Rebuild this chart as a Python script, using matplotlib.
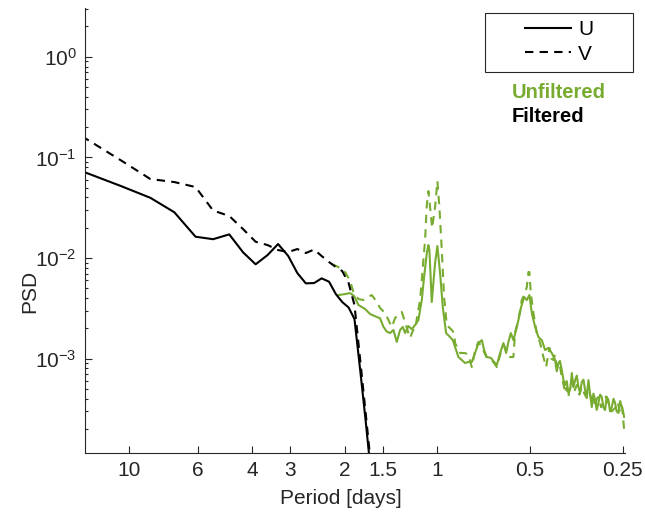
import numpy as np
import matplotlib
matplotlib.use('Agg')
import matplotlib.pyplot as plt
from matplotlib.patches import Rectangle
from matplotlib.ticker import LogLocator, NullLocator, FixedLocator, FixedFormatter

plt.rcParams['font.family'] = ['Liberation Sans', 'DejaVu Sans']

# Filtered spectra (frequency in cycles/day)
freq_filt = [0.070, 0.094, 0.117, 0.140, 0.164, 0.187, 0.211, 0.234, 0.257, 0.281,
             0.304, 0.328, 0.351, 0.374, 0.398, 0.421, 0.445, 0.468, 0.491, 0.515,
             0.538, 0.562, 0.585, 0.608]
u_filt = [0.0732, 0.0519, 0.0397, 0.0285, 0.0163, 0.0154, 0.0172, 0.0114, 0.00867, 0.01072,
          0.01379, 0.01048, 0.00710, 0.00561, 0.00565, 0.00629, 0.00582, 0.00439, 0.00366, 0.00323,
          0.00248, 0.000755, 0.000241, 7.5e-5]
v_filt = [0.163, 0.0933, 0.0610, 0.0569, 0.0508, 0.0297, 0.0262, 0.0194, 0.01453, 0.01347,
          0.01202, 0.01148, 0.01230, 0.01122, 0.01216, 0.01048, 0.00913, 0.00815, 0.00743, 0.00565,
          0.00342, 0.00095, 0.000289, 9.0e-5]

# Unfiltered spectra
freq_u_raw = [0.4772, 0.5017, 0.5208, 0.5365, 0.5541, 0.5826, 0.6046, 0.6357, 0.6516, 0.6679,
              0.6850, 0.7022, 0.7197, 0.7382, 0.7566, 0.7721, 0.7855, 0.8050, 0.8258, 0.8464,
              0.8675, 0.8900, 0.9053, 0.9238, 0.9350, 0.9419, 0.9589, 0.9829, 1.0000, 1.0204,
              1.0411, 1.0671, 1.0995, 1.1220, 1.1414, 1.1700, 1.2000, 1.2300, 1.2607, 1.2933,
              1.3257, 1.3588, 1.3940, 1.4180, 1.4470, 1.4910, 1.5282, 1.5595, 1.5983, 1.6382,
              1.6717, 1.7004, 1.7311, 1.7652, 1.8010, 1.8323, 1.8699, 1.9121, 1.9513, 1.9894,
              2.0254, 2.0760, 2.1278, 2.1828, 2.2372, 2.2930, 2.3519, 2.4106, 2.4400, 2.4712,
              2.5000, 2.5345, 2.5650, 2.5977, 2.6300, 2.6624, 2.7000, 2.7313, 2.7650, 2.7995,
              2.8350, 2.8694, 2.9050, 2.9430, 2.9800, 3.0164, 3.0550, 3.0922, 3.1300, 3.1715,
              3.2100, 3.2505, 3.2900, 3.3315, 3.3750, 3.4177, 3.4600, 3.5034, 3.5450, 3.5908,
              3.6350, 3.6831, 3.7300, 3.7751, 3.8200, 3.8699, 3.9200, 3.9696, 4.0050, 4.0388]
u_raw = [0.00429, 0.00439, 0.00449, 0.00420, 0.00342, 0.00312, 0.00278, 0.00260, 0.00252, 0.00208,
         0.00186, 0.00180, 0.00193, 0.00147, 0.00193, 0.00207, 0.00180, 0.00211, 0.00197, 0.00216,
         0.00242, 0.00383, 0.00648, 0.01122, 0.01347, 0.01202, 0.00366, 0.00893, 0.01317, 0.00710,
         0.00326, 0.00180, 0.00164, 0.00153, 0.00131, 0.00104, 0.000971, 0.000907, 0.000928, 0.000928,
         0.00114, 0.00143, 0.00153, 0.00122, 0.00104, 0.00102, 0.000928, 0.000866, 0.00114, 0.00143,
         0.00114, 0.00147, 0.00180, 0.00153, 0.00193, 0.00242, 0.00326, 0.00410, 0.00383, 0.00429,
         0.00284, 0.00207, 0.00164, 0.00153, 0.00122, 0.00128, 0.00114, 0.000971, 0.000750, 0.000907,
         0.000950, 0.000772, 0.000620, 0.000548, 0.000600, 0.000456, 0.000500, 0.000721, 0.000520, 0.000614,
         0.000680, 0.000524, 0.000460, 0.000587, 0.000620, 0.000489, 0.000420, 0.000614, 0.000450, 0.000331,
         0.000450, 0.000389, 0.000310, 0.000363, 0.000440, 0.000416, 0.000330, 0.000309, 0.000420, 0.000389,
         0.000300, 0.000331, 0.000400, 0.000363, 0.000300, 0.000289, 0.000380, 0.000331, 0.000300, 0.000264]

freq_v_raw = [0.4541, 0.4772, 0.5017, 0.5208, 0.5338, 0.5541, 0.5751, 0.5939, 0.6124, 0.6357,
              0.6516, 0.6764, 0.7111, 0.7290, 0.7663, 0.7855, 0.8050, 0.8153, 0.8339, 0.8464,
              0.8612, 0.8786, 0.8900, 0.9006, 0.9122, 0.9238, 0.9350, 0.9469, 0.9612, 0.9829,
              1.0000, 1.0151, 1.0335, 1.0515, 1.0727, 1.1137, 1.1330, 1.1414, 1.1850, 1.2300,
              1.2607, 1.2933, 1.3257, 1.3588, 1.3971, 1.4470, 1.5022, 1.5595, 1.5983, 1.6382,
              1.6802, 1.7219, 1.7652, 1.7877, 1.8323, 1.8793, 1.9262, 1.9513, 1.9748, 1.9894,
              2.0101, 2.0498, 2.1025, 2.1549, 2.2091, 2.2538, 2.3100, 2.3450, 2.3802, 2.4100,
              2.4418, 2.4900, 2.5345, 2.5650, 2.5977, 2.6300, 2.6624, 2.7000, 2.7313, 2.7800,
              2.8352, 2.8900, 2.9430, 3.0000, 3.0554, 3.1100, 3.1715, 3.2100, 3.2505, 3.2900,
              3.3315, 3.4000, 3.4594, 3.5200, 3.5908, 3.6800, 3.7751, 3.8500, 3.9194, 3.9800,
              4.0388]
v_raw = [0.00873, 0.00815, 0.00727, 0.00592, 0.00460, 0.00392, 0.00383, 0.00410, 0.00429, 0.00366,
         0.00319, 0.00284, 0.00207, 0.00254, 0.00291, 0.00232, 0.00180, 0.00161, 0.00193, 0.00193,
         0.00272, 0.00383, 0.00605, 0.00956, 0.01514, 0.0336, 0.0463, 0.0321, 0.0199, 0.0321,
         0.0582, 0.0321, 0.01202, 0.00410, 0.00216, 0.00193, 0.00180, 0.00143, 0.00114, 0.00114,
         0.00109, 0.000827, 0.00122, 0.00147, 0.00128, 0.00102, 0.000971, 0.000827, 0.00109, 0.00137,
         0.00122, 0.00104, 0.00104, 0.00184, 0.00242, 0.00383, 0.00449, 0.00516, 0.00727, 0.00727,
         0.00449, 0.00284, 0.00180, 0.00143, 0.00104, 0.000827, 0.00128, 0.00100, 0.000971, 0.00110,
         0.000827, 0.000900, 0.000658, 0.000560, 0.000456, 0.000520, 0.000416, 0.000560, 0.000614, 0.000470,
         0.000548, 0.000440, 0.000524, 0.000450, 0.000407, 0.000470, 0.000389, 0.000440, 0.000331, 0.000400,
         0.000416, 0.000330, 0.000363, 0.000420, 0.000363, 0.000300, 0.000324, 0.000370, 0.000289, 0.000330,
         0.000196]

period_ticks = [10, 6, 4, 3, 2, 1.5, 1, 0.5, 0.25]
period_labels = ['10', '6', '4', '3', '2', '1.5', '1', '0.5', '0.25']

green = '#77AC30'
axcol = '#262626'

fig = plt.figure(figsize=(6.45, 5.19), dpi=100)
ax = fig.add_axes([0.1318, 0.1277, 0.8372, 0.8563])

ax.plot(freq_u_raw, u_raw, color=green, lw=1.5)
ax.plot(freq_v_raw, v_raw, color=green, lw=1.5, dashes=(4, 3))
hu, = ax.plot(freq_filt, u_filt, color='black', lw=1.5, label='U')
hv, = ax.plot(freq_filt, v_filt, color='black', lw=1.5, dashes=(4, 3), label='V')

ax.set_xscale('log')
ax.set_yscale('log')
ax.set_xlim(1 / 13.93, 1 / 0.246)
ax.set_ylim(1.165e-4, 3.03)

ax.xaxis.set_major_locator(FixedLocator([1 / p for p in period_ticks]))
ax.xaxis.set_major_formatter(FixedFormatter(period_labels))
ax.xaxis.set_minor_locator(NullLocator())
ax.yaxis.set_major_locator(LogLocator(base=10, numticks=10))
ax.yaxis.set_minor_locator(LogLocator(base=10, subs=np.arange(2, 10), numticks=10))

for s in ['top', 'right']:
    ax.spines[s].set_visible(False)
for s in ['left', 'bottom']:
    ax.spines[s].set_color(axcol)
    ax.spines[s].set_linewidth(0.8)
ax.tick_params(which='both', direction='in', colors=axcol, labelsize=15, width=0.8)
ax.tick_params(which='major', length=5, pad=6)
ax.tick_params(which='minor', length=2.5)

ax.set_xlabel('Period [days]', fontsize=15, color=axcol)
ax.set_ylabel('PSD', fontsize=15, color=axcol)
ax.xaxis.set_label_coords(0.474, -0.081)
ax.yaxis.set_label_coords(-0.085, 0.362)

# legend box
fig.add_artist(Rectangle((485 / 645, 1 - 72 / 519), 148 / 645, 59 / 519,
                         transform=fig.transFigure, facecolor='white',
                         edgecolor=axcol, lw=0.8))
leg = fig.legend(handles=[hu, hv], loc='center left',
                 bbox_to_anchor=(525 / 645, 1 - 42 / 519), frameon=False,
                 fontsize=15, handlelength=2.2, handletextpad=0.35,
                 labelspacing=0.25, borderpad=0, borderaxespad=0)
fig.text(512 / 645, 1 - 92 / 519, 'Unfiltered', color=green, fontsize=14.5,
         fontweight='bold', va='center')
fig.text(512 / 645, 1 - 117 / 519, 'Filtered', color='black', fontsize=14.5,
         fontweight='bold', va='center')

plt.savefig('out.png', dpi=100)
